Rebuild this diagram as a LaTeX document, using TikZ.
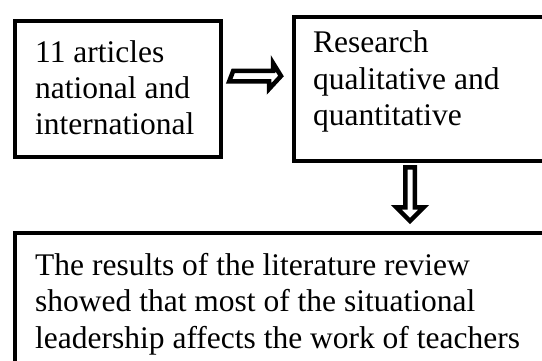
\documentclass[tikz,border=0pt]{standalone}
\usepackage{fontspec}
\setmainfont{Liberation Serif}
\usetikzlibrary{calc}
\begin{document}
\begin{tikzpicture}[x=1pt,y=-1pt,
  boxline/.style={draw=black,line width=4pt},
  txt/.style={anchor=base west,inner sep=0pt,font=\fontsize{31.5}{36.5}\selectfont},
  blk/.style={draw=black,fill=white,line width=4.5pt,line join=miter}]
\useasboundingbox (0,0) rectangle (542,360);
\clip (0,0) rectangle (542,360);
\fill[white] (0,0) rectangle (542,360);
% boxes
\node[boxline,inner sep=0pt,minimum width=206pt,minimum height=136pt,anchor=north west] (b1) at (13,19) {};
\node[boxline,inner sep=0pt,minimum width=268pt,minimum height=144.5pt,anchor=north west] (b2) at (292,14.5) {};
\node[boxline,inner sep=0pt,minimum width=560pt,minimum height=160pt,anchor=north west] (b3) at (13,231) {};
% texts
\node[txt] (t11) at (35,62) {11 articles};
\node[txt] (t12) at (35,98) {national and};
\node[txt] (t13) at (35,134) {international};
\node[txt] (t21) at (313,52.5) {Research};
\node[txt] (t22) at (313,89) {qualitative and};
\node[txt] (t23) at (313,125.5) {quantitative};
\node[txt] (t31) at (35,275) {The results of the literature review};
\node[txt] (t32) at (35,311.5) {showed that most of the situational};
\node[txt] (t33) at (35,348) {leadership affects the work of teachers};
% arrows
\coordinate (r0) at ($(b1.east)+(10.25,-13)$);
\coordinate (r1) at ($(b2.west)+(-11,-12.75)$);
\coordinate (d0) at ($(b2.north west)+(118,152.75)$);
\coordinate (d1) at ($(b3.north west)+(397,-10)$);
\draw[blk] (r0) ++(0,-5.25) -- ++(39.75,0) -- ++(0,-7.75) -- (r1) -- ++(-12,13) -- ++(0,-7.75) -- ++(-39.75,0) -- cycle;
\draw[blk] (d0) ++(-4.75,0) -- ++(9.5,0) -- ++(0,40) -- ++(9,0) -- (d1) -- ++(-13.75,-13.75) -- ++(9,0) -- cycle;
\end{tikzpicture}
\end{document}
